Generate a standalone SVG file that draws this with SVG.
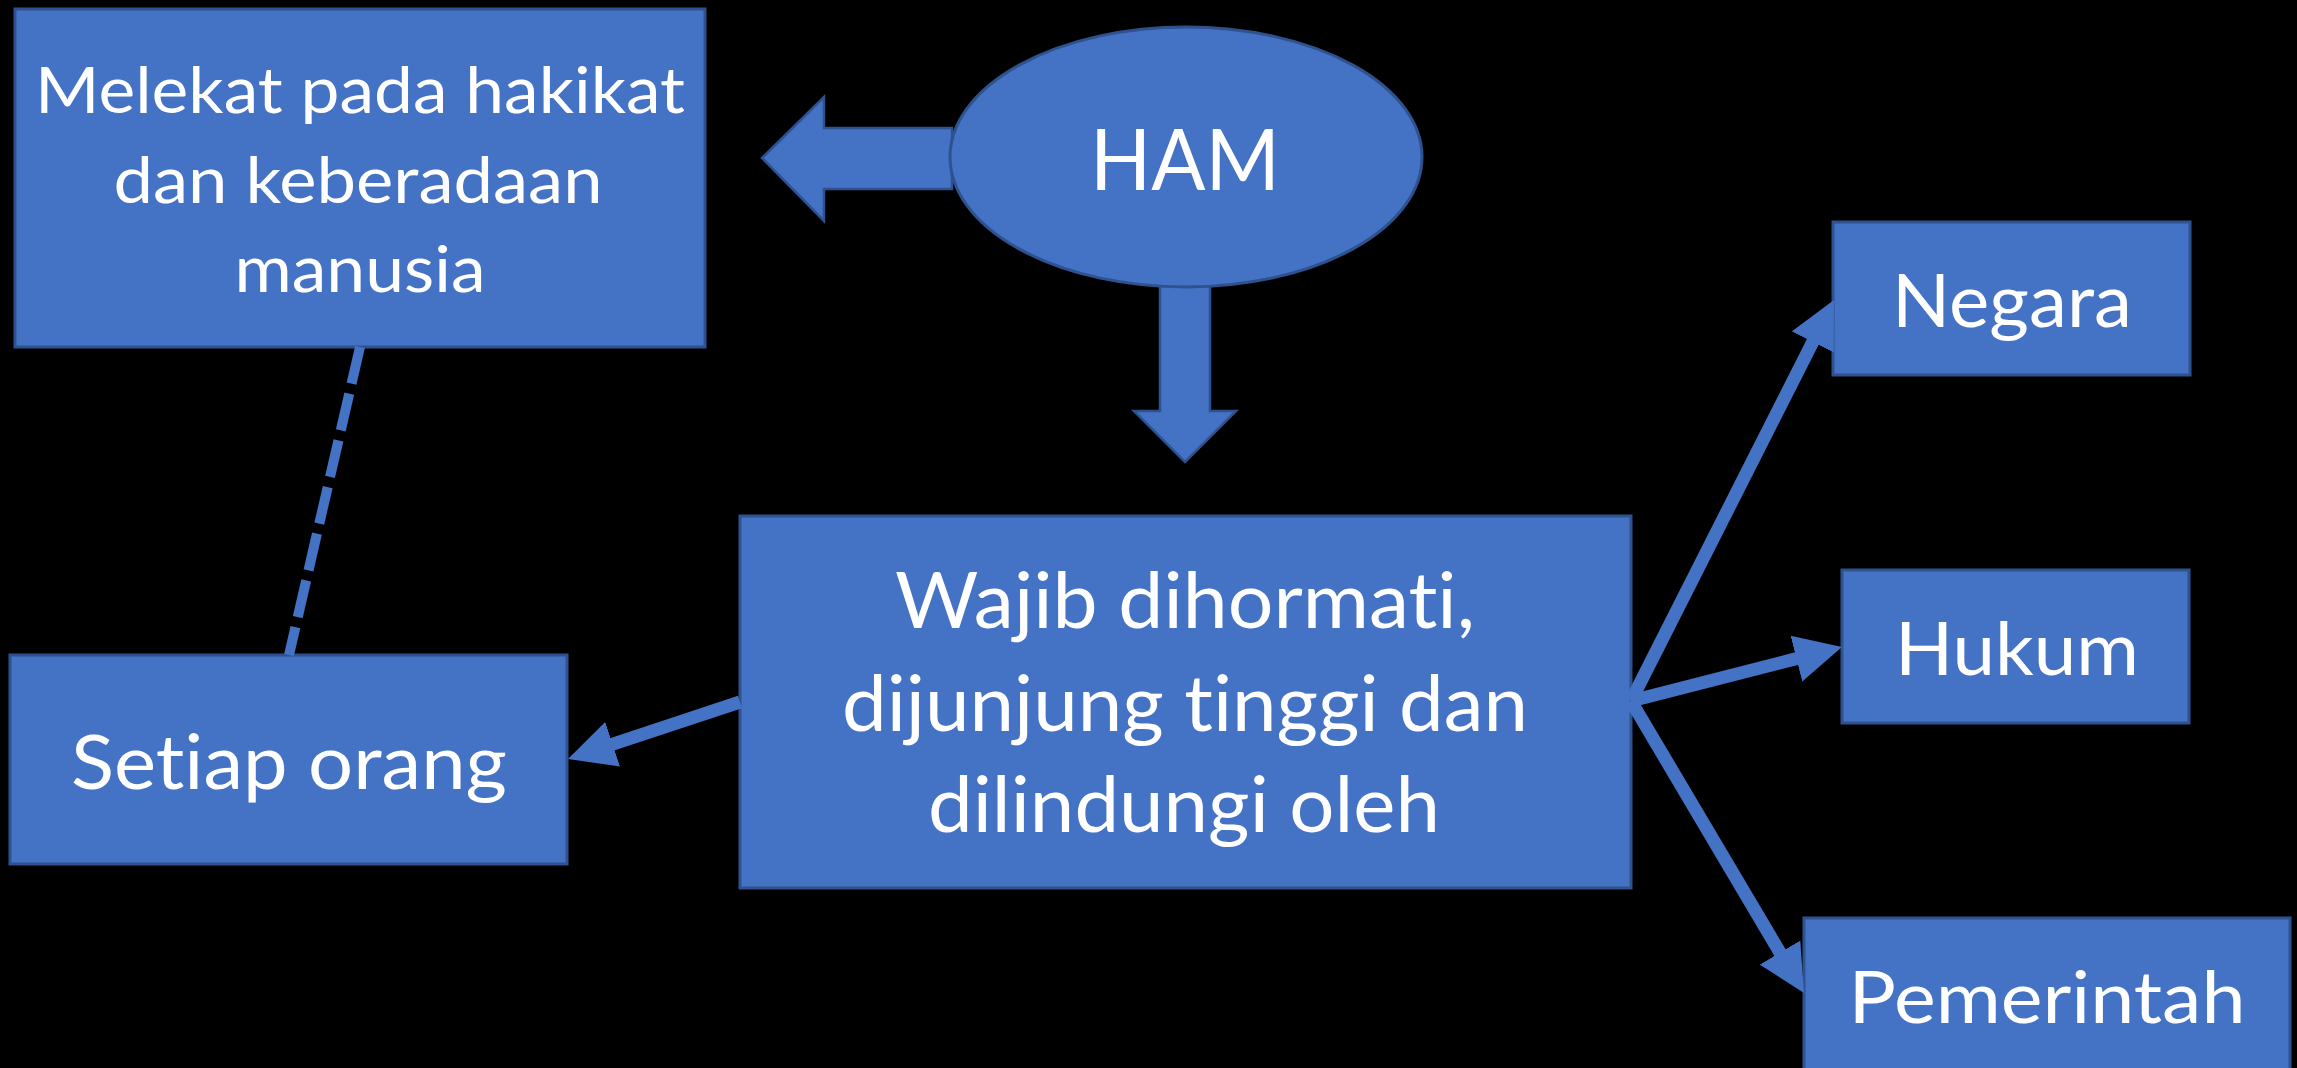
<svg xmlns="http://www.w3.org/2000/svg" width="2297" height="1068" viewBox="0 0 2297 1068">
  <style>
    .box { fill: #4472C4; stroke: #2F528F; stroke-width: 3; }
    .blk { fill: #4472C4; stroke: #2F528F; stroke-width: 2.5; stroke-linejoin: miter; }
    .lbl { fill: #FFFFFF; font-family: Lato, "Open Sans", "Liberation Sans", sans-serif; text-anchor: middle; font-variant-ligatures: none; font-feature-settings: "liga" 0, "clig" 0; }
    .con { fill: none; stroke: #4472C4; stroke-width: 13; stroke-linecap: butt; }
    .dash { fill: none; stroke: #4472C4; stroke-width: 10; stroke-dasharray: 37.6 10.3; }
  </style>
  <defs>
    <marker id="tri" markerUnits="userSpaceOnUse" viewBox="0 0 47 48" markerWidth="47" markerHeight="48" refX="7" refY="24" orient="auto">
      <path d="M0,0.5 L47,24 L0,47.5 Z" fill="#4472C4"/>
    </marker>
  </defs>

  <rect x="0" y="0" width="2297" height="1068" fill="#000000"/>

  <!-- block arrows leaving the HAM ellipse -->
  <g id="arrow-left">
    <polygon class="blk" points="952,128 824,128 824,97 762,158 824,221 824,189 952,189"/>
  </g>
  <g id="arrow-down">
    <polygon class="blk" points="1160,282 1210,282 1210,411 1236,411 1185,462 1134,411 1160,411"/>
  </g>

  <g id="node-ham">
    <ellipse class="box" cx="1186" cy="157" rx="236" ry="130" stroke-width="2.5"/>
    <text class="lbl" x="1185" y="190" font-size="85" textLength="190" lengthAdjust="spacingAndGlyphs">HAM</text>
  </g>

  <g id="node-melekat">
    <rect class="box" x="15" y="9" width="690" height="338"/>
    <text class="lbl" x="360" y="113" font-size="64" textLength="650" lengthAdjust="spacingAndGlyphs">Melekat pada hakikat</text>
    <text class="lbl" x="358" y="203" font-size="64" textLength="489" lengthAdjust="spacingAndGlyphs">dan keberadaan</text>
    <text class="lbl" x="360" y="292" font-size="64" textLength="251" lengthAdjust="spacingAndGlyphs">manusia</text>
  </g>

  <g id="node-setiap">
    <rect class="box" x="10" y="655" width="557" height="209"/>
    <text class="lbl" x="289" y="789" font-size="75" textLength="436" lengthAdjust="spacingAndGlyphs">Setiap orang</text>
  </g>

  <g id="node-wajib">
    <rect class="box" x="740" y="516" width="891" height="372"/>
    <text class="lbl" x="1185" y="628" font-size="77" textLength="580" lengthAdjust="spacingAndGlyphs">Wajib dihormati,</text>
    <text class="lbl" x="1185" y="731" font-size="77" textLength="686" lengthAdjust="spacingAndGlyphs">dijunjung tinggi dan</text>
    <text class="lbl" x="1184" y="832" font-size="77" textLength="512" lengthAdjust="spacingAndGlyphs">dilindungi oleh</text>
  </g>

  <g id="node-negara">
    <rect class="box" x="1833" y="222" width="357" height="153"/>
    <text class="lbl" x="2012" y="327" font-size="73" textLength="240" lengthAdjust="spacingAndGlyphs">Negara</text>
  </g>

  <g id="node-hukum">
    <rect class="box" x="1842" y="570" width="347" height="153"/>
    <text class="lbl" x="2017" y="675" font-size="74" textLength="244" lengthAdjust="spacingAndGlyphs">Hukum</text>
  </g>

  <g id="node-pemerintah">
    <rect class="box" x="1804" y="918" width="486" height="155"/>
    <text class="lbl" x="2047" y="1023" font-size="72" textLength="397" lengthAdjust="spacingAndGlyphs">Pemerintah</text>
  </g>

  <g id="connectors">
    <line class="dash" x1="360" y1="347" x2="289" y2="655"/>
    <line class="con" x1="740" y1="702" x2="606" y2="746.4" marker-end="url(#tri)"/>
    <line class="con" x1="1631" y1="701" x2="1815.9" y2="335.7" marker-end="url(#tri)"/>
    <line class="con" x1="1631" y1="701" x2="1803.2" y2="656.9" marker-end="url(#tri)"/>
    <line class="con" x1="1631" y1="701" x2="1783.6" y2="958.6" marker-end="url(#tri)"/>
  </g>
</svg>
